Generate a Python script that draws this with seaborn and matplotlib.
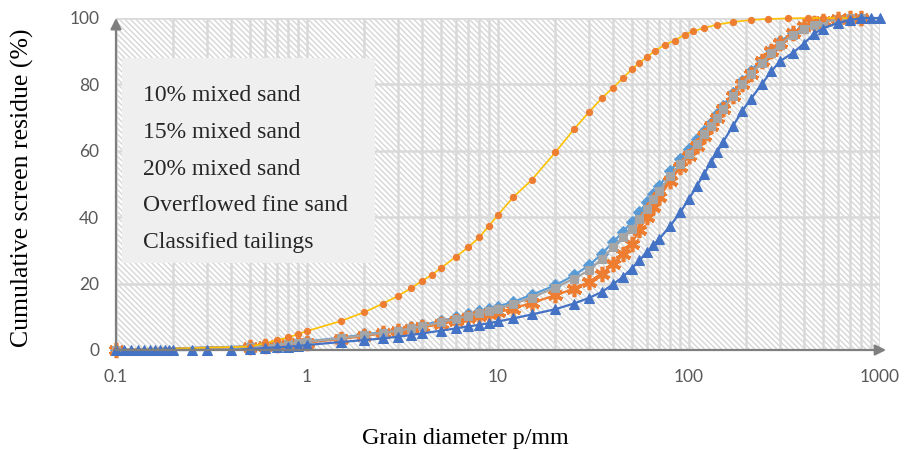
import numpy as np
import pandas as pd
import matplotlib
matplotlib.use("Agg")
import matplotlib.pyplot as plt
from matplotlib.patches import Rectangle
from matplotlib.ticker import FixedLocator, FixedFormatter, LogLocator, NullFormatter
import seaborn as sns

# ---------------- data ----------------
x_mix = [0.1, 0.5, 0.6, 0.7, 0.8, 0.9, 1, 1.5, 2, 2.5, 3, 3.5, 4, 5, 6, 7, 8, 9, 10, 12, 15,
         20, 25, 30, 35, 40, 45, 50, 55, 60, 65, 70, 80, 90, 100, 110, 120, 130, 140, 150,
         170, 190, 210, 240, 270, 300, 350, 400, 450, 500, 600, 700, 800]
y_10 = [0, 1.1, 1.4, 1.7, 2.0, 2.3, 2.6, 3.7, 4.7, 5.4, 6.1, 6.8, 7.5, 8.7, 9.8, 10.8, 11.6,
        12.4, 13.1, 14.5, 16.6, 19.5, 22.5, 25.5, 29, 32.5, 35.5, 38.5, 41.5, 44.5, 47, 49.5,
        54, 57.5, 60.5, 63.5, 66, 68.5, 71, 73.5, 77.5, 81, 84, 87.5, 90.5, 93, 95.5, 97.2,
        98.3, 99, 99.6, 100, 100]
y_15 = [0, 1.0, 1.3, 1.6, 1.8, 2.0, 2.2, 3.3, 4.2, 5.0, 5.6, 6.2, 6.8, 7.8, 8.7, 9.5, 10.2,
        10.8, 11.4, 12.5, 14.2, 16.5, 18.5, 20.5, 23, 26, 29, 32, 36, 40, 43, 46, 51, 55,
        58.5, 61.5, 64.5, 67.5, 70, 72.5, 76.5, 80, 83, 87, 90, 92.5, 95.5, 97.5, 98.5, 99.2,
        99.7, 100, 100]
y_20 = [0, 1.0, 1.3, 1.6, 1.9, 2.2, 2.5, 3.5, 4.5, 5.2, 5.8, 6.5, 7.2, 8.3, 9.4, 10.3, 11.1,
        11.8, 12.5, 13.8, 15.8, 18.8, 21.5, 24, 27.5, 31, 34, 36.5, 39.5, 42.5, 45.5, 48,
        52.5, 56, 59, 62, 65, 67.5, 70, 72.5, 76.5, 80, 83, 86.5, 89.5, 92, 95, 96.8, 98,
        98.8, 99.5, 100, 100]

x_over = [0.1, 0.5, 0.6, 0.7, 0.8, 0.9, 1.0, 1.5, 2, 2.5, 3, 3.5, 4, 4.5, 5, 6, 7, 8, 9, 10,
          12, 15, 20, 25, 30, 35, 40, 45, 50, 55, 60, 66, 75, 84, 95, 105, 120, 140, 170, 210,
          260, 330, 420, 500, 600, 700, 780]
y_over = [0, 1.0, 2.0, 3.0, 3.8, 4.8, 5.7, 8.7, 11.4, 14, 16.3, 18.6, 20.8, 22.6, 24.6, 28,
          31, 34, 37.5, 40.7, 46, 51.2, 59.6, 66.5, 71.7, 75.9, 79, 81.8, 84.5, 86.5, 88.2,
          90, 92, 93.2, 95, 96, 97, 98, 98.8, 99.4, 99.7, 99.9, 100, 100, 100, 100, 100]

x_tail = [0.10, 0.11, 0.12, 0.13, 0.14, 0.15, 0.16, 0.17, 0.18, 0.19, 0.20, 0.25, 0.3, 0.4,
          0.5, 0.6, 0.7, 0.8, 0.9, 1, 1.5, 2, 2.5, 3, 3.5, 4, 5, 6, 7, 8, 9, 10, 12, 15, 20,
          25, 30, 35, 40, 45, 50, 55, 60, 65, 70, 80, 90, 100, 110, 120, 130, 140, 150, 170,
          190, 210, 240, 270, 300, 350, 400, 450, 500, 600, 700, 800, 900, 1000]
y_tail = [0, 0, 0, 0, 0, 0, 0, 0, 0, 0, 0, 0, 0, 0.1, 0.3, 0.6, 0.8, 1.0, 1.2, 1.5, 2.4, 3.0,
          3.5, 4.0, 4.5, 5.0, 5.8, 6.5, 7.1, 7.6, 8.1, 8.6, 9.5, 10.7, 12.3, 14, 15.7, 17.5,
          19.8, 22, 24.5, 27, 29.5, 31.5, 33.5, 37.5, 41.5, 45.5, 49.5, 53, 56.5, 59.5, 62.5,
          67.5, 72, 75.5, 80, 84, 87, 89.5, 92.3, 95.2, 96.8, 98.5, 99.4, 100, 100, 100]

labels = ["10% mixed sand", "15% mixed sand", "20% mixed sand",
          "Overflowed fine sand", "Classified tailings"]
x_ticks = [0.1, 1, 10, 100, 1000]
x_tick_labels = ["0.1", "1", "10", "100", "1000"]
y_ticks = [0, 20, 40, 60, 80, 100]
y_tick_labels = ["0", "20", "40", "60", "80", "100"]

# ---------------- figure ----------------
sns.set_theme(style="white")
plt.rcParams["font.family"] = ["Lato", "DejaVu Sans"]
plt.rcParams["hatch.linewidth"] = 1.0

fig = plt.figure(figsize=(9.09, 4.5), dpi=100)
ax = fig.add_axes([116 / 909, 1 - 350 / 450, 764 / 909, 332 / 450])
ax.set_xscale("log")
ax.set_xlim(0.1, 1000)
ax.set_ylim(0, 100)

# hatched background
ax.add_patch(Rectangle((0, 0), 1, 1, transform=ax.transAxes, facecolor="white",
                       edgecolor="#D6D6D6", hatch="\\\\\\\\\\\\", lw=0, zorder=0))
ax.set_axisbelow(True)
ax.grid(True, which="major", axis="both", color="#D9D9D9", lw=1.8, zorder=0.5)
ax.xaxis.set_minor_locator(LogLocator(base=10, subs=np.arange(2, 10), numticks=20))
ax.xaxis.set_minor_formatter(NullFormatter())
ax.grid(True, which="minor", axis="x", color="#D9D9D9", lw=1.8, zorder=0.5)

specs = [
    (x_mix, y_10, dict(color="#5B9BD5", marker="D", markersize=6, mfc="#5B9BD5", mec="#5B9BD5")),
    (x_mix, y_15, dict(color="#ED7D31", marker=(6, 2, 0), markersize=11, mfc="#ED7D31",
                       mec="#ED7D31", mew=2.6)),
    (x_mix, y_20, dict(color="#A5A5A5", marker="s", markersize=6, mfc="#A5A5A5", mec="#A5A5A5")),
    (x_over, y_over, dict(color="#FFC000", marker="o", markersize=4.5, mfc="#ED7D31",
                          mec="#ED7D31", lw=1.2)),
    (x_tail, y_tail, dict(color="#4472C4", marker="^", markersize=7, mfc="#4472C4", mec="#4472C4")),
]
for (xs, ys, kw), lab in zip(specs, labels):
    df = pd.DataFrame({"x": xs, "y": ys})
    lw = kw.pop("lw", 1.6)
    sns.lineplot(data=df, x="x", y="y", ax=ax, estimator=None, sort=False,
                 label=lab, lw=lw, clip_on=False, zorder=3, **kw)

# axes styling
for s in ax.spines.values():
    s.set_visible(False)
ax.annotate("", xy=(0, 1.0), xytext=(0, 0), xycoords="axes fraction",
            arrowprops=dict(arrowstyle="-|>", color="#7F7F7F", lw=1.6, mutation_scale=16,
                            shrinkA=0, shrinkB=0), zorder=5)
ax.annotate("", xy=(1.008, 0), xytext=(0, 0), xycoords="axes fraction",
            arrowprops=dict(arrowstyle="-|>", color="#7F7F7F", lw=1.6, mutation_scale=16,
                            shrinkA=0, shrinkB=0), zorder=5)

ax.xaxis.set_major_locator(FixedLocator(x_ticks))
ax.xaxis.set_major_formatter(FixedFormatter(x_tick_labels))
ax.yaxis.set_major_locator(FixedLocator(y_ticks))
ax.yaxis.set_major_formatter(FixedFormatter(y_tick_labels))
ax.tick_params(axis="both", which="major", direction="in", length=5, width=1.2,
               color="#595959", labelsize=12.5, labelcolor="#595959")
ax.tick_params(axis="x", which="major", pad=14)
ax.tick_params(axis="y", which="major", pad=12)
ax.tick_params(axis="x", which="minor", length=0)

serif = ["Liberation Serif", "DejaVu Serif"]
ax.set_xlabel("Grain diameter p/mm", family=serif, fontsize=17.3, color="black")
ax.set_ylabel("Cumulative screen residue (%)", family=serif, fontsize=18.5, color="black")
ax.xaxis.set_label_coords(0.457, -0.236)
ax.yaxis.set_label_coords(-0.107, 0.49)

# legend box (grey panel) + text-only legend
ax.add_patch(Rectangle(((122 - 116) / 764, (350 - 263) / 332), (375 - 122) / 764,
                       (263 - 58) / 332, transform=ax.transAxes, facecolor="#EFEFEF",
                       edgecolor="none", zorder=5))
leg = ax.legend(loc="upper left", bbox_to_anchor=(8 / 764, 1 - 48 / 332), frameon=False,
                handlelength=0, handletextpad=0, labelspacing=0.64, borderpad=0.8,
                borderaxespad=0, prop={"family": serif, "size": 17})
for h in leg.legend_handles:
    h.set_visible(False)
leg.set_zorder(6)

fig.savefig("out.png", dpi=100)
